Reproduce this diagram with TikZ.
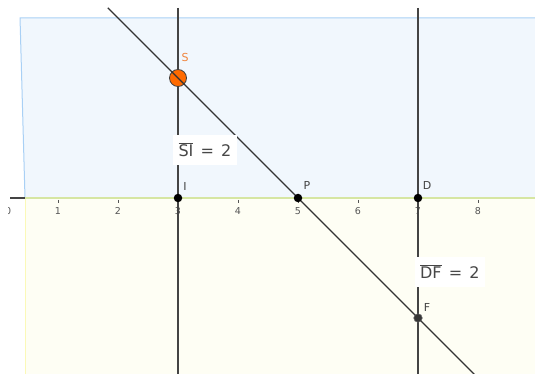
\documentclass[tikz,border=0pt]{standalone}
\usepackage{fontspec}
\setmainfont{DejaVu Sans}
\definecolor{bluefill}{HTML}{F1F7FD}
\definecolor{blueedge}{HTML}{A9D0F5}
\definecolor{yelfill}{HTML}{FEFEF4}
\definecolor{yeledge}{HTML}{FBF9B8}
\definecolor{axisgreen}{HTML}{D6E6A2}
\definecolor{lineg}{HTML}{444444}
\definecolor{sorange}{HTML}{FF6A00}
\definecolor{slabel}{HTML}{F0843C}
\definecolor{numgray}{HTML}{555555}
\tikzset{
  ptdot/.style={circle,fill=black,inner sep=0pt,minimum size=8.5pt},
  fdot/.style={circle,fill=lineg!80!black,draw=black!60,line width=0.6pt,inner sep=0pt,minimum size=8.5pt},
  sdot/.style={circle,fill=sorange,draw=black!75,line width=0.8pt,inner sep=0pt,minimum size=17pt},
  ptlabel/.style={font=\fontsize{11}{11}\selectfont,text=lineg,inner sep=0pt},
  numlabel/.style={font=\fontsize{9.5}{9.5}\selectfont,text=numgray,inner sep=0pt},
  vline/.style={draw=lineg,line width=1.4pt},
  dline/.style={draw=black!80,line width=1.1pt},
  valbox/.style={fill=white,inner sep=0pt,minimum height=30pt,text=black!72,font=\fontsize{16}{16}\selectfont}
}
\begin{document}
\begin{tikzpicture}[x=60pt,y=60pt]
\useasboundingbox (0.0333,-2.9333) rectangle (8.95,3.3);
\clip (0.0333,-2.9333) rectangle (8.95,3.3);
% regions
\fill[bluefill] (0.367,3.0) -- (9.1,3.0) -- (9.1,0) -- (0.45,0) -- cycle;
\draw[blueedge,line width=1pt] (9.1,3.0) -- (0.367,3.0) -- (0.45,0);
\fill[yelfill] (0.45,0) rectangle (9.1,-3.1);
\draw[yeledge,line width=0.9pt] (0.45,0) -- (0.45,-3.1);
% axis
\draw[lineg,line width=1.2pt] (0.2,0) -- (0.45,0);
\draw[axisgreen,line width=1.2pt] (0.45,0) -- (9.1,0);
\foreach \k in {1,...,9}{
  \draw[numgray,line width=0.6pt] (\k,-0.03) -- (\k,-0.08);
  \node[numlabel] at (\k,-0.22) {\k};
}
\begin{scope}
\clip (0.183,-0.4) rectangle (0.5,0);
\node[numlabel] at (0.167,-0.22) {0};
\end{scope}
% vertical lines
\coordinate (v3top) at (3,3.17);
\coordinate (v3bot) at (3,-3.1);
\coordinate (v7top) at (7,3.17);
\coordinate (v7bot) at (7,-3.1);
\draw[vline] (v3top) -- (v3bot);
\draw[vline] (v7top) -- (v7bot);
% point S
\node[sdot] (S) at (3,2) {};
% diagonal
\coordinate (dtop) at (1.83,3.17);
\coordinate (dbot) at (8.1,-3.1);
\draw[dline] (dtop) -- (dbot);
% points
\node[ptdot] (I) at (3,0) {};
\node[ptdot] (P) at (5,0) {};
\node[ptdot] (D) at (7,0) {};
\node[fdot] (F) at (7,-2) {};
% labels
\node[ptlabel,text=slabel] (Sl) at (3.117,2.35) {S};
\node[ptlabel] (Il) at (3.117,0.2) {I};
\node[ptlabel] (Pl) at (5.15,0.21) {P};
\node[ptlabel] (Dl) at (7.15,0.21) {D};
\node[ptlabel] (Fl) at (7.15,-1.83) {F};
% value boxes
\node[valbox,minimum width=64pt] (SIbox) at (3.45,0.8) {$\overline{\hbox{SI}}$\hspace{0.45em}=\hspace{0.45em}2};
\node[valbox,minimum width=70pt] (DFbox) at (7.53,-1.23) {$\overline{\hbox{DF}}$\hspace{0.45em}=\hspace{0.45em}2};
\end{tikzpicture}
\end{document}
